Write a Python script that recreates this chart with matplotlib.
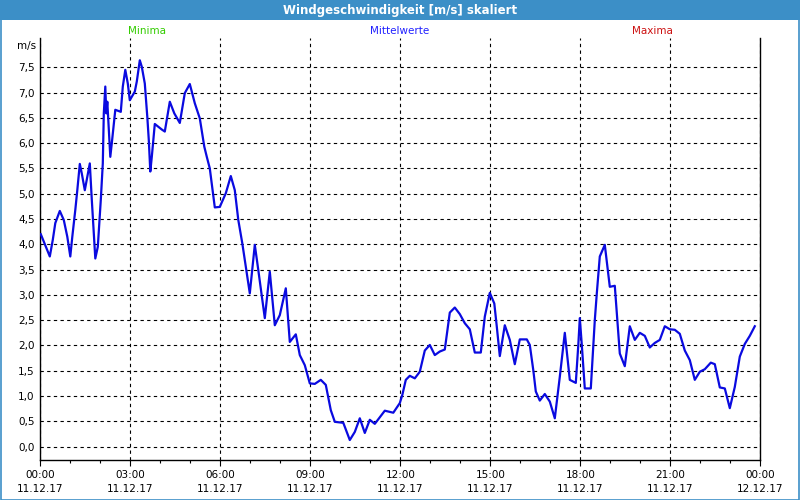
import matplotlib
matplotlib.use("Agg")
import matplotlib.pyplot as plt
from matplotlib.patches import Rectangle
from matplotlib.ticker import MultipleLocator, FixedLocator

# ---- data (minutes since 00:00 11.12.17, wind speed m/s) ----
minutes = [1, 19, 25, 30, 39, 47, 54, 60, 64, 70, 74, 79, 83, 89, 94, 99, 103, 110, 115, 121,
           125, 127, 130, 132, 134, 137, 140, 143, 150, 161, 165, 170, 175, 179, 189, 193, 199,
           203, 209, 214, 217, 220, 223, 229, 243, 249, 259, 268, 279, 289, 299, 309, 319, 328,
           333, 339, 349, 359, 371, 381, 389, 396, 404, 411, 419, 429, 436, 449, 459, 469, 479,
           491, 499, 511, 519, 529, 539, 549, 561, 571, 581, 589, 606, 619, 629, 639, 649, 659,
           669, 689, 706, 719, 724, 731, 739, 749, 759, 769, 779, 789, 799, 809, 819, 829, 839,
           849, 859, 869, 881, 889, 899, 908, 913, 919, 929, 939, 949, 959, 973, 979, 986, 991,
           999, 1009, 1019, 1029, 1039, 1049, 1059, 1071, 1076, 1079, 1083, 1089, 1101, 1109,
           1113, 1119, 1129, 1139, 1149, 1159, 1169, 1179, 1189, 1199, 1209, 1219, 1229, 1239,
           1249, 1259, 1269, 1279, 1289, 1299, 1309, 1319, 1329, 1341, 1349, 1359, 1369, 1379,
           1389, 1399, 1409, 1419, 1429]
speed = [4.20, 3.76, 4.09, 4.42, 4.66, 4.48, 4.15, 3.76, 4.15, 4.68, 5.07, 5.59, 5.40, 5.07, 5.34,
         5.60, 4.88, 3.72, 3.95, 4.88, 5.60, 6.59, 7.12, 6.59, 6.82, 6.26, 5.73, 6.00, 6.66, 6.62,
         7.12, 7.45, 7.18, 6.85, 7.02, 7.22, 7.64, 7.51, 7.18, 6.52, 6.06, 5.44, 5.73, 6.38, 6.27,
         6.23, 6.82, 6.59, 6.40, 6.99, 7.17, 6.79, 6.49, 5.93, 5.73, 5.50, 4.73, 4.74, 5.01, 5.35,
         5.07, 4.48, 4.02, 3.56, 3.03, 3.99, 3.49, 2.54, 3.46, 2.40, 2.60, 3.13, 2.07, 2.22, 1.81,
         1.61, 1.25, 1.24, 1.32, 1.22, 0.72, 0.49, 0.47, 0.13, 0.29, 0.56, 0.27, 0.53, 0.45, 0.71,
         0.67, 0.86, 1.02, 1.32, 1.40, 1.35, 1.48, 1.90, 2.01, 1.81, 1.88, 1.92, 2.65, 2.75, 2.62,
         2.44, 2.32, 1.86, 1.86, 2.57, 3.04, 2.83, 2.37, 1.79, 2.40, 2.11, 1.63, 2.12, 2.12, 2.01,
         1.51, 1.09, 0.91, 1.04, 0.89, 0.56, 1.38, 2.25, 1.32, 1.26, 2.01, 2.54, 2.01, 1.15, 1.15,
         2.50, 3.03, 3.76, 3.99, 3.16, 3.18, 1.84, 1.59, 2.38, 2.11, 2.25, 2.19, 1.96, 2.05, 2.11,
         2.38, 2.32, 2.31, 2.23, 1.90, 1.71, 1.32, 1.48, 1.53, 1.66, 1.63, 1.17, 1.15, 0.76, 1.18,
         1.78, 2.03, 2.19, 2.38]

x_tick_hours = [0, 3, 6, 9, 12, 15, 18, 21, 24]
x_tick_labels = ["00:00\n11.12.17", "03:00\n11.12.17", "06:00\n11.12.17", "09:00\n11.12.17",
                 "12:00\n11.12.17", "15:00\n11.12.17", "18:00\n11.12.17", "21:00\n11.12.17",
                 "00:00\n12.12.17"]
y_ticks = [0.0, 0.5, 1.0, 1.5, 2.0, 2.5, 3.0, 3.5, 4.0, 4.5, 5.0, 5.5, 6.0, 6.5, 7.0, 7.5]
title = "Windgeschwindigkeit [m/s] skaliert"
legend_names = ["Minima", "Mittelwerte", "Maxima"]
legend_colors = ["#33cc00", "#2020ff", "#cc1010"]

W, H = 800, 500
fig = plt.figure(figsize=(8, 5), dpi=100)
fig.patch.set_facecolor("white")

# title bar and border
bar_color = "#3c8fc7"
fig.patches.append(Rectangle((0, 1 - 20 / H), 1, 20 / H, transform=fig.transFigure,
                             facecolor=bar_color, edgecolor="none", zorder=0))
fig.patches.append(Rectangle((0.5 / W, 0.5 / H), 1 - 1.5 / W, 1 - 1.5 / H, transform=fig.transFigure,
                             facecolor="none", edgecolor=bar_color, linewidth=1.2, zorder=5))
fig.text(0.5, 1 - 10.5 / H, title, color="white", fontsize=8.5, fontweight="bold",
         ha="center", va="center")

# legend texts
for name, col, xp in zip(legend_names, legend_colors, [147, 400, 652]):
    fig.text(xp / W, 1 - 31 / H, name, color=col, fontsize=7.5, ha="center", va="center")
fig.text(27 / W, 1 - 46 / H, "m/s", color="black", fontsize=7.5, ha="center", va="center")

left, right, bottom, top = 40.3, 760.3, 460, 38
ax = fig.add_axes([left / W, 1 - bottom / H, (right - left) / W, (bottom - top) / H])
ax.set_facecolor("white")

hours = [m / 60 for m in minutes]
ax.plot(hours, speed, color="#0a0ae0", linewidth=1.6, zorder=3)

ax.set_xlim(0, 24)
ax.set_ylim(-0.265, 8.08)

ax.xaxis.set_major_locator(FixedLocator(x_tick_hours))
ax.set_xticklabels(x_tick_labels)
ax.xaxis.set_minor_locator(MultipleLocator(1))
ax.yaxis.set_major_locator(FixedLocator(y_ticks))
ax.set_yticklabels([f"{v:.1f}".replace(".", ",") for v in y_ticks])

ax.tick_params(axis="x", which="major", length=4, width=0.8, pad=3, labelsize=7.5,
               direction="out")
ax.tick_params(axis="x", which="minor", length=2.5, width=0.8, direction="out")
ax.tick_params(axis="y", which="major", length=0, pad=4, labelsize=7.5)
for lbl in ax.get_xticklabels():
    lbl.set_linespacing(1.5)

ax.grid(True, which="major", axis="both", color="black", linestyle=(0, (3, 3)), linewidth=0.8)

for s in ["left", "bottom", "right"]:
    ax.spines[s].set_color("black")
    ax.spines[s].set_linewidth(1.0)
ax.spines["top"].set_visible(False)

fig.savefig("out.png", dpi=100, facecolor="white")
